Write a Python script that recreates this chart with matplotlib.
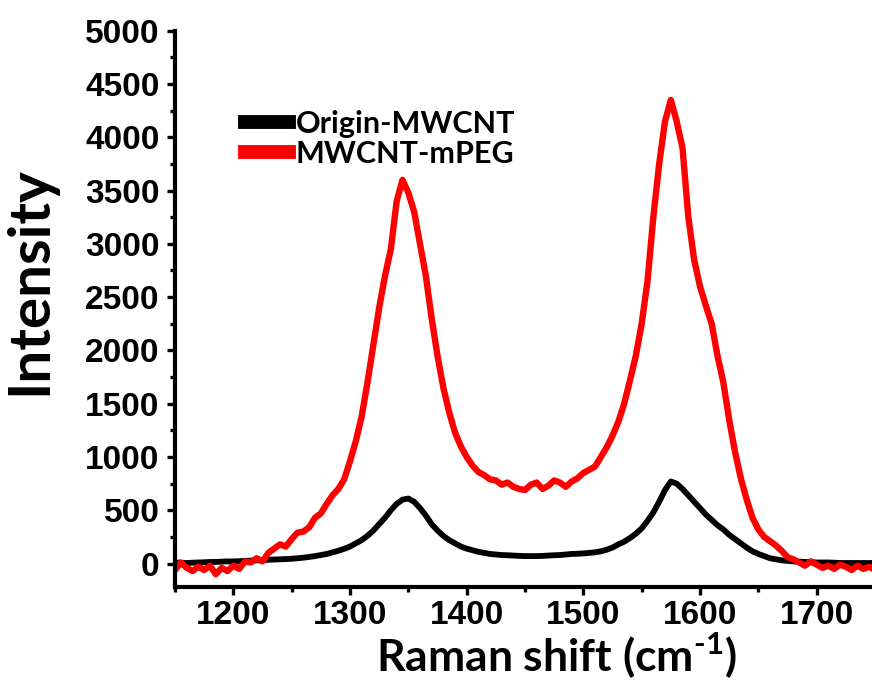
import numpy as np
import matplotlib
matplotlib.use('Agg')
import matplotlib.pyplot as plt
from matplotlib.ticker import MultipleLocator

plt.rcParams['mathtext.fontset'] = 'custom'
plt.rcParams['mathtext.rm'] = 'Lato:bold'
plt.rcParams['mathtext.bf'] = 'Lato:bold'

# Raman shift grid (cm-1), one sample every 5 cm-1
shift = np.arange(1150, 1755, 5)

# Origin-MWCNT (black)
origin = [10, 8, 5, 8, 10, 12, 15, 15, 18, 20,
          20, 22, 25, 28, 30, 32, 35, 38, 40, 42,
          45, 50, 55, 62, 70, 80, 90, 105, 120, 138,
          160, 190, 220, 260, 310, 370, 430, 500, 560, 600,
          610, 580, 520, 450, 370, 310, 260, 220, 190, 160,
          140, 125, 110, 100, 90, 85, 80, 78, 75, 72,
          70, 70, 70, 72, 75, 78, 80, 85, 90, 92,
          95, 100, 105, 115, 130, 150, 180, 205, 240, 280,
          330, 400, 480, 580, 690, 770, 750, 700, 640, 580,
          520, 460, 410, 360, 320, 270, 230, 190, 150, 115,
          90, 70, 50, 40, 30, 25, 20, 18, 15, 12,
          10, 10, 10, 8, 5, 5, 5, 5, 5, 5,
          5]

# MWCNT-mPEG (red)
mpeg = [-60, 10, -40, -70, -30, -60, -20, -100, -40, -70,
        -20, -50, 20, 10, 50, 20, 100, 140, 180, 160,
        230, 290, 300, 340, 430, 470, 560, 640, 700, 790,
        960, 1150, 1380, 1700, 2050, 2400, 2700, 2950, 3400, 3600,
        3480, 3300, 3000, 2700, 2300, 1950, 1650, 1420, 1230, 1100,
        1000, 920, 860, 830, 790, 780, 740, 760, 720, 700,
        690, 740, 760, 700, 730, 780, 760, 720, 770, 800,
        850, 880, 910, 1000, 1090, 1200, 1330, 1500, 1720, 1950,
        2250, 2650, 3250, 3750, 4150, 4350, 4150, 3900, 3250, 2850,
        2600, 2420, 2250, 1950, 1700, 1350, 1050, 800, 600, 430,
        320, 250, 210, 170, 120, 60, 40, 10, -20, 20,
        -10, -40, -20, -50, -10, -30, -60, -20, -50, -30,
        -60]

labels = ['Origin-MWCNT', 'MWCNT-mPEG']

W, H = 872, 681
fig = plt.figure(figsize=(W / 100, H / 100), dpi=100)
ax = fig.add_axes([175 / W, 94 / H, 700 / W, (587 - 30.7) / H])

ax.plot(shift, origin, color='black', lw=4.2, label=labels[0], solid_joinstyle='round')
ax.plot(shift, mpeg, color='#ff0000', lw=4.6, label=labels[1], solid_joinstyle='round')

ax.set_xlim(1150, 1750)
ax.set_ylim(-220, 5000)
ax.xaxis.set_major_locator(MultipleLocator(100))
ax.xaxis.set_minor_locator(MultipleLocator(50))
ax.yaxis.set_major_locator(MultipleLocator(500))
ax.yaxis.set_minor_locator(MultipleLocator(250))

for s in ['top', 'right']:
    ax.spines[s].set_visible(False)
for s in ['left', 'bottom']:
    ax.spines[s].set_linewidth(3)

ax.tick_params(which='major', direction='out', length=6, width=2.4, pad=5)
ax.tick_params(axis='x', which='major', pad=3)
ax.tick_params(which='minor', direction='out', length=3.5, width=2.4)
for lab in ax.get_xticklabels() + ax.get_yticklabels():
    lab.set_fontfamily('Liberation Sans')
    lab.set_fontweight('bold')
    lab.set_fontsize(24)

ax.set_ylabel('Intensity', family='Lato', fontweight='bold', fontsize=42)
ax.yaxis.set_label_coords(-0.17, 0.55)
ax.set_xlabel(r'Raman shift (cm$^{\text{-1}}$)', family='Lato', fontweight='bold', fontsize=32)
ax.xaxis.set_label_coords(0.545, -0.078)

leg = ax.legend(loc='upper left', bbox_to_anchor=(245 / W, 1 - 110 / H),
                bbox_transform=fig.transFigure, frameon=False,
                prop={'family': 'Lato', 'weight': 'bold', 'size': 22},
                handlelength=1.45, handletextpad=0.2, labelspacing=0.05,
                borderpad=0, borderaxespad=0)
for h in leg.legend_handles:
    h.set_linewidth(10)

fig.savefig('out.png', dpi=100)
